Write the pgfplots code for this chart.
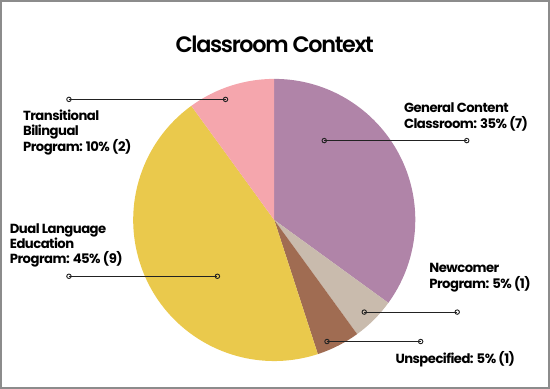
\documentclass[border=0pt]{standalone}
\usepackage{pgfplots}
\usepackage{pgfplotstable}
\pgfplotsset{compat=1.18}
\usepackage{fontspec}
\setmainfont{Poppins}
\newfontfamily\lblfont[LetterSpace=-4,UprightFont={* Bold}]{Poppins}
\IfFontExistsTF{Poppins SemiBold}
  {\newfontfamily\titlefont[LetterSpace=-6]{Poppins SemiBold}}
  {\newfontfamily\titlefont[LetterSpace=-8,UprightFont={* Bold}]{Poppins}}
\definecolor{cgen}{HTML}{B084A8}
\definecolor{cnew}{HTML}{C9BBAD}
\definecolor{cuns}{HTML}{A06C52}
\definecolor{cdual}{HTML}{EAC94C}
\definecolor{ctra}{HTML}{F5A6AD}
\definecolor{cline}{HTML}{222222}
\definecolor{cframe}{HTML}{8C8C8C}

\pgfplotstableread{
label value
General 35
Newcomer 5
Unspecified 5
Dual 45
Transitional 10
}\piedata

\pgfplotstablegetelem{0}{value}\of\piedata \let\vA\pgfplotsretval
\pgfplotstablegetelem{1}{value}\of\piedata \let\vB\pgfplotsretval
\pgfplotstablegetelem{2}{value}\of\piedata \let\vC\pgfplotsretval
\pgfplotstablegetelem{3}{value}\of\piedata \let\vD\pgfplotsretval
\pgfplotstablegetelem{4}{value}\of\piedata \let\vE\pgfplotsretval
\pgfmathsetmacro\aO{90}
\pgfmathsetmacro\aA{\aO-3.6*\vA}
\pgfmathsetmacro\aB{\aA-3.6*\vB}
\pgfmathsetmacro\aC{\aB-3.6*\vC}
\pgfmathsetmacro\aD{\aC-3.6*\vD}
\pgfmathsetmacro\aE{\aD-3.6*\vE}

\newcommand\lbl[3]{\node[anchor=base west,inner sep=0pt,font=\lblfont\fontsize{13}{15}\selectfont] at (axis cs:#1,#2) {#3};}

\begin{document}
\begin{tikzpicture}
\begin{axis}[
  width=550pt, height=391pt, scale only axis,
  xmin=0, xmax=550, ymin=0, ymax=391,
  enlargelimits=false, hide axis, clip=false,
]
% frame
\draw[cframe, line width=1.5pt] (axis cs:4.5,5) rectangle (axis cs:545,386.5);
% pie
\fill[cgen]  (axis cs:274,170.5) -- ++(\aO:139pt) arc[start angle=\aO, end angle=\aA, radius=139pt] -- cycle;
\fill[cnew]  (axis cs:274,170.5) -- ++(\aA:139pt) arc[start angle=\aA, end angle=\aB, radius=139pt] -- cycle;
\fill[cuns]  (axis cs:274,170.5) -- ++(\aB:139pt) arc[start angle=\aB, end angle=\aC, radius=139pt] -- cycle;
\fill[cdual] (axis cs:274,170.5) -- ++(\aC:139pt) arc[start angle=\aC, end angle=\aD, radius=139pt] -- cycle;
\fill[ctra]  (axis cs:274,170.5) -- ++(\aD:139pt) arc[start angle=\aD, end angle=\aE, radius=139pt] -- cycle;
% leader lines
\addplot[cline, line width=1.1pt, mark=o, mark size=2.2pt, mark options={solid, fill=white, line width=0.9pt}] coordinates {(71.7,289.3) (226,289.3)};
\addplot[cline, line width=1.1pt, mark=o, mark size=2.2pt, mark options={solid, fill=white, line width=0.9pt}] coordinates {(323.3,248.7) (463.7,248.7)};
\addplot[cline, line width=1.1pt, mark=o, mark size=2.2pt, mark options={solid, fill=white, line width=0.9pt}] coordinates {(362.7,79.7) (454.3,79.7)};
\addplot[cline, line width=1.1pt, mark=o, mark size=2.2pt, mark options={solid, fill=white, line width=0.9pt}] coordinates {(326,50.7) (418.3,50.7)};
\addplot[cline, line width=1.1pt, mark=o, mark size=2.2pt, mark options={solid, fill=white, line width=0.9pt}] coordinates {(71.7,115) (218,115)};
% title
\node[anchor=base, inner sep=0pt, font=\titlefont\fontsize{22}{26}\selectfont] at (axis cs:274.5,336) {Classroom Context};
% labels
\lbl{401.7}{276.3}{General Content}
\lbl{401.7}{260.3}{Classroom: 35\% (7)}
\lbl{426.7}{118.7}{Newcomer}
\lbl{426.7}{102.7}{Program: 5\% (1)}
\lbl{393.3}{29.3}{Unspecified: 5\% (1)}
\lbl{26.3}{268.3}{Transitional}
\lbl{26.3}{253.3}{Bilingual}
\lbl{26.3}{238.3}{Program: 10\% (2)}
\lbl{13.3}{157.3}{Dual Language}
\lbl{13.3}{142.3}{Education}
\lbl{13.3}{127.3}{Program: 45\% (9)}
\end{axis}
\end{tikzpicture}
\end{document}
